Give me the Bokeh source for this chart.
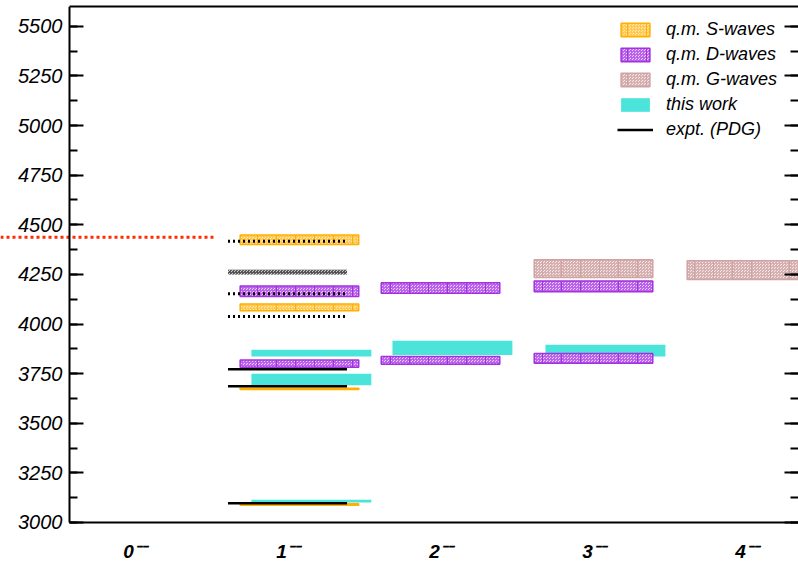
from bokeh.plotting import figure
from bokeh.models import (Range1d, LinearAxis, SingleIntervalTicker, FixedTicker,
                          Legend, LegendItem, ColumnDataSource, CustomLabelingPolicy)
from bokeh.embed import file_html
from bokeh.resources import INLINE

# J^PC sectors along the x axis
jpc_ticks = [0, 1, 2, 3, 4]
jpc_labels = ["0⁻⁻", "1⁻⁻", "2⁻⁻", "3⁻⁻", "4⁻⁻"]

# quark-model multiplets (MeV): J, lower edge, upper edge
s_wave_j = [1, 1, 1, 1]
s_wave_lo = [3087, 3670, 4067, 4401]
s_wave_hi = [3095, 3676, 4101, 4449]

d_wave_j = [1, 1, 2, 2, 3, 3]
d_wave_lo = [3782, 4139, 3797, 4155, 3802, 4163]
d_wave_hi = [3819, 4192, 3837, 4208, 3851, 4217]

g_wave_j = [3, 4]
g_wave_lo = [4235, 4224]
g_wave_hi = [4324, 4319]

# lattice results (this work)
lat_j = [1, 1, 1, 2, 3]
lat_lo = [3101, 3691, 3836, 3844, 3836]
lat_hi = [3114, 3750, 3871, 3916, 3896]

# PDG states: established, tentative, and one with a mass band
pdg_j = [1, 1, 1]
pdg_mass = [3097, 3686, 3772]
pdg_tent_j = [1, 1, 1]
pdg_tent_mass = [4038, 4153, 4417]
pdg_band_j = [1]
pdg_band_lo = [4250]
pdg_band_hi = [4274]

threshold_mass = 4437

# ---- layout constants ----
X_START, X_END = -0.876, 4.34   # visible x window (frame fills the page)
Y_START, Y_END = 2793.4, 5600   # room below the axis for the J^PC labels
E_MIN = 3000                    # energy axis starts here
AXIS_X = -0.425                 # where the energy axis sits
THRESH_END = 0.516
QM_SHIFT = {1: 0.078}           # q.m. column moved right where PDG lines sit
LAT_SHIFT = 0.078               # lattice column relative to q.m. column
QM_HALF = 0.3875
LAT_HALF = 0.392
PDG_HALF = 0.389
FONT = "Liberation Sans"


def qm_centre(j):
    return j + QM_SHIFT.get(j, 0.0)


def box_source(js, lo, hi, half, shift=0.0):
    cs = [qm_centre(j) + shift for j in js]
    return ColumnDataSource(dict(left=[c - half for c in cs],
                                 right=[c + half for c in cs],
                                 bottom=lo, top=hi))


p = figure(width=798, height=563,
           x_range=Range1d(X_START, X_END), y_range=Range1d(Y_START, Y_END),
           x_axis_type=None, y_axis_type=None,
           output_backend="svg", toolbar_location=None,
           min_border_left=0, min_border_right=0,
           min_border_top=6, min_border_bottom=0)
p.outline_line_color = None
p.background_fill_color = "white"

# axes
yticker = SingleIntervalTicker(interval=250, num_minor_ticks=2)


def style_ticks(ax):
    ax.major_tick_line_width = 2
    ax.minor_tick_line_width = 2
    ax.major_tick_in = 14
    ax.major_tick_out = 0
    ax.minor_tick_in = 8
    ax.minor_tick_out = 0


yl = LinearAxis(ticker=yticker, fixed_location=AXIS_X, bounds=(E_MIN, Y_END))
style_ticks(yl)
yl.axis_line_width = 2
yl.major_label_standoff = 7
yl.major_label_text_font = FONT
yl.major_label_text_font_style = "italic"
yl.major_label_text_font_size = "20px"
yl.major_label_text_color = "black"
p.add_layout(yl, "left")

yr = LinearAxis(ticker=yticker, fixed_location=X_END, bounds=(E_MIN, Y_END),
                major_label_policy=CustomLabelingPolicy(code="return []"))
style_ticks(yr)
yr.axis_line_color = None
p.add_layout(yr, "right")

xb = LinearAxis(ticker=FixedTicker(ticks=jpc_ticks), bounds=(AXIS_X, X_END),
                fixed_location=E_MIN,
                major_label_overrides={t: l for t, l in zip(jpc_ticks, jpc_labels)})
xb.axis_line_width = 2
xb.major_tick_line_color = None
xb.minor_tick_line_color = None
xb.major_label_standoff = 13
xb.major_label_text_font = FONT
xb.major_label_text_font_style = "bold italic"
xb.major_label_text_font_size = "19px"
xb.major_label_text_color = "black"
p.add_layout(xb, "below")

xt = LinearAxis(ticker=FixedTicker(ticks=[]), bounds=(AXIS_X, X_END))
xt.axis_line_width = 2
xt.major_tick_line_color = None
xt.minor_tick_line_color = None
xt.major_label_standoff = 0
p.add_layout(xt, "above")

# lattice boxes
lat_r = p.quad(source=box_source(lat_j, lat_lo, lat_hi, LAT_HALF, LAT_SHIFT),
               fill_color="#4ae4da", line_color=None)


def qm_boxes(js, lo, hi, fill, hatch, edge):
    src = box_source(js, lo, hi, QM_HALF)
    a = p.quad(source=src, fill_color=fill, line_color=None,
               hatch_pattern="criss_cross", hatch_color=hatch,
               hatch_scale=3, hatch_weight=1)
    b = p.quad(source=src, fill_color=None, line_color=edge, line_width=1.5,
               hatch_pattern="vertical_line", hatch_color=edge,
               hatch_scale=19, hatch_weight=1)
    return [a, b]


s_r = qm_boxes(s_wave_j, s_wave_lo, s_wave_hi, "#ffeab8", "#ffc850", "#ffb000")
d_r = qm_boxes(d_wave_j, d_wave_lo, d_wave_hi, "#ead0f8", "#ba62ea", "#a232e0")
g_r = qm_boxes(g_wave_j, g_wave_lo, g_wave_hi, "#f4e8e8", "#d6b0b0", "#cfa3a3")

# PDG states
band = p.quad(left=[j - PDG_HALF for j in pdg_band_j],
              right=[j + PDG_HALF for j in pdg_band_j],
              bottom=pdg_band_lo, top=pdg_band_hi,
              fill_color="#c8c8c8", line_color=None,
              hatch_pattern="criss_cross", hatch_color="#555555",
              hatch_scale=3, hatch_weight=1)
tent = p.segment(x0=[j - PDG_HALF for j in pdg_tent_j],
                 x1=[j + PDG_HALF for j in pdg_tent_j],
                 y0=pdg_tent_mass, y1=pdg_tent_mass,
                 line_color="black", line_width=3, line_dash="2 3")
pdg_r = p.segment(x0=[j - PDG_HALF for j in pdg_j],
                  x1=[j + PDG_HALF for j in pdg_j],
                  y0=pdg_mass, y1=pdg_mass,
                  line_color="black", line_width=2.5)

# threshold marker, running in from the page edge
p.segment(x0=[X_START], x1=[THRESH_END], y0=[threshold_mass], y1=[threshold_mass],
          line_color="#ff2a00", line_width=3, line_dash="3 3")

legend = Legend(items=[
    LegendItem(label="q.m. S-waves", renderers=s_r),
    LegendItem(label="q.m. D-waves", renderers=d_r),
    LegendItem(label="q.m. G-waves", renderers=g_r),
    LegendItem(label="this work", renderers=[lat_r]),
    LegendItem(label="expt. (PDG)", renderers=[pdg_r]),
], location=(617, 423), glyph_width=36, glyph_height=17, label_height=17,
    spacing=4, label_standoff=13, padding=0, margin=0,
    border_line_color=None, background_fill_alpha=0,
    label_text_font=FONT, label_text_font_style="italic",
    label_text_font_size="18px", label_text_color="black")
p.add_layout(legend)

open("out.html", "w").write(file_html(p, INLINE))
